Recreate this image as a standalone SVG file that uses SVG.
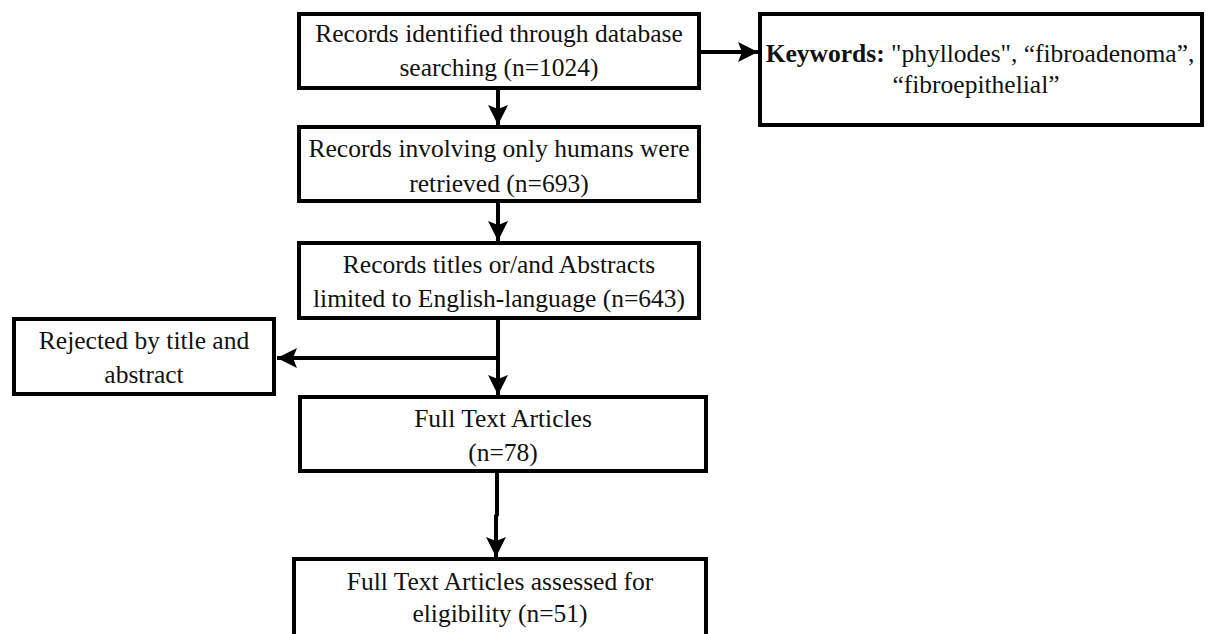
<svg xmlns="http://www.w3.org/2000/svg" width="1208" height="634" viewBox="0 0 1208 634">
<style>
.box{fill:#fff;stroke:#000;stroke-width:4}
.t{font-family:"Liberation Serif","Times New Roman",serif;font-size:25.5px;fill:#111;text-anchor:middle}
.b{font-weight:bold}
.c{fill:none;stroke:#000;stroke-width:4}
</style>
<defs>
<marker id="ah" markerUnits="userSpaceOnUse" markerWidth="22" markerHeight="22" viewBox="-20 -11 22 22" refX="0" refY="0" orient="auto">
<path d="M0,0 L-20,-10 L-16,0 L-20,10 Z" fill="#000"/>
</marker>
</defs>
<rect width="1208" height="634" fill="#fff"/>
<g id="connectors">
<line class="c" x1="701" y1="52" x2="758" y2="52" marker-end="url(#ah)"/>
<line class="c" x1="498" y1="90" x2="498" y2="125" marker-end="url(#ah)"/>
<line class="c" x1="498" y1="203" x2="498" y2="241" marker-end="url(#ah)"/>
<line class="c" x1="498" y1="320" x2="498" y2="395" marker-end="url(#ah)"/>
<line class="c" x1="498" y1="358" x2="277" y2="358" marker-end="url(#ah)"/>
<path class="c" d="M497,473 L497,515 L496,516 L496,557" marker-end="url(#ah)"/>
</g>
<g id="n1">
<rect class="box" x="299" y="14" width="400" height="74"/>
<text class="t" x="499" y="42">Records identified through database</text>
<text class="t" x="499" y="76">searching (n=1024)</text>
</g>
<g id="n_keywords">
<rect class="box" x="760" y="14" width="442" height="111"/>
<text class="t" x="980" y="62"><tspan class="b">Keywords:</tspan> "phyllodes", “fibroadenoma”,</text>
<text class="t" x="976" y="93">“fibroepithelial”</text>
</g>
<g id="n2">
<rect class="box" x="299" y="127" width="400" height="74"/>
<text class="t" x="499" y="157">Records involving only humans were</text>
<text class="t" x="499" y="192">retrieved (n=693)</text>
</g>
<g id="n3">
<rect class="box" x="299" y="243" width="400" height="75"/>
<text class="t" x="499" y="273">Records titles or/and Abstracts</text>
<text class="t" x="499" y="307">limited to English-language (n=643)</text>
</g>
<g id="n_rejected">
<rect class="box" x="14" y="319" width="260" height="75"/>
<text class="t" x="144" y="349">Rejected by title and</text>
<text class="t" x="144" y="383">abstract</text>
</g>
<g id="n4">
<rect class="box" x="300" y="397" width="406" height="74"/>
<text class="t" x="503" y="427">Full Text Articles</text>
<text class="t" x="503" y="461">(n=78)</text>
</g>
<g id="n5">
<rect class="box" x="294" y="559" width="412" height="80"/>
<text class="t" x="500" y="590">Full Text Articles assessed for</text>
<text class="t" x="500" y="622">eligibility (n=51)</text>
</g>
</svg>
